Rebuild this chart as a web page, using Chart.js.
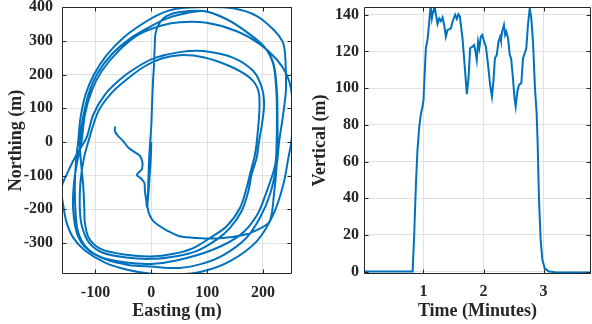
<!DOCTYPE html>
<html><head><meta charset="utf-8">
<script src="https://cdn.jsdelivr.net/npm/chart.js@4.4.1/dist/chart.umd.min.js"></script>
<style>
html,body{margin:0;padding:0;background:#fff;width:592px;height:324px;overflow:hidden}
canvas{position:absolute;top:0}
#c1{left:0}#c2{left:300px}
</style></head><body>
<canvas id="c1" width="300" height="324"></canvas>
<canvas id="c2" width="292" height="324"></canvas>
<script>
// ---- Trajectory (left panel), metres ----
const eastingM = [
 -65,-65,-59,-50,-41,-28,-20,-16,-16,-17,-26,-20,-12.5,-11.5,-9,-8,
 -6,-5,-4,-2,0,1.5,3,4.7,6,7.7,15,27,51,93,
 135,177,203.6,218.6,224,225,224.5,
 222,206,190,160,110,45,0,
 -45,-90,-118,-132,-136,-137,-135,-131,
 -127,-118,-103,-80,-50,-15,15,45,99,
 147,189,218.6,235,239,241,241,236,229,
 224.6,212.5,194.6,170,130,90,51,0.5,
 -41,-83,-115,-133,-140,-139,-133,-125,
 -119,-107,-89,-59,-23,18.5,51,99,
 153,195,224.6,242.5,251,253,251,
 245.5,236.5,218.6,188.7,141,93,45,0,-41,-83,-119,-140,-152,-158,-161,
 -149,-134,-116,
 -104,-83,-53,-23,6.5,51,93,
 147,183,198,202,198,193,
 188.7,179.7,173.8,161.8,141,117,81,45,0,
 -45,-88,-112,-124,-128,-127,-121,-113,
 -95,-71,-41,-11.5,18.5,51,93,
 141,177,192,193.5,189,
 185.7,176.7,170.8,158.8,135,105,75,40,0,
 -45,-90,-112,-119,-120,-122,-126,-128,
 -122,-112,-96,-70,-40,-5,25,50,93,
 135,176,203,219,225,226,226,
 225,220,212,189,165,123,81,51,30.5,3.6,-6.6,-5,-3,-1,0
];
const northingM = [
 46,31,17,2,-17,-32,-42,-60,-72,-81,-98,-106,-121,-146,-175,-192,
 -150,-100,-53,0,50,120,180,225,280,324,354,374,386,389,
 364,319,280,230,151,80,2,
 -67,-150,-215,-275,-320,-352,-362,
 -358,-342,-310,-262,-200,-130,-60,2,
 70,140,200,258,310,352,380,396,401,
 397,374,334,299,270,210,151,80,2,
 -67,-156,-225,-285,-335,-362,-374,-370,
 -365,-348,-318,-272,-200,-130,-60,2,
 81,151,210,270,319,346,356,354,
 329,290,245,200,151,81,2,
 -47,-126,-215,-295,-354,-384,-394,-391,-380,-358,-322,-284,-238,-186,-136,
 -87,-37,13,
 81,141,190,225,250,267,270,
 250,210,161,111,51,2,
 -47,-96,-146,-205,-255,-290,-324,-339,-347,
 -343,-328,-298,-252,-200,-120,-50,0,
 91,146,190,225,248,258,252,
 225,190,151,91,2,
 -37,-96,-136,-196,-250,-285,-315,-332,-340,
 -335,-318,-285,-240,-200,-130,-60,2,
 75,145,205,262,305,340,365,378,389,
 365,321,282,232,152,80,2,
 -60,-150,-235,-262,-276,-286,-285,-280,-265,-235,-196,-150,-100,-50,0
];
// ---- Altitude (right panel) ----
const timeMin = [0,0.4,0.82,0.847,0.875,0.9,0.93,0.958,0.985,1.0,1.02,1.04,1.07,1.096,1.12,1.14,1.16,1.175,1.19,1.207,1.235,1.262,1.29,1.318,1.345,1.373,1.4,1.43,1.457,1.484,1.528,1.556,1.583,1.606,1.65,1.694,1.722,1.75,1.777,1.816,1.844,1.872,1.888,1.91,1.93,1.955,1.98,2.01,2.04,2.076,2.11,2.14,2.165,2.19,2.22,2.25,2.276,2.29,2.31,2.34,2.36,2.38,2.41,2.437,2.46,2.49,2.514,2.536,2.563,2.59,2.63,2.658,2.686,2.713,2.74,2.77,2.796,2.824,2.857,2.885,2.9,2.924,2.952,2.98,3.02,3.09,3.2,3.5,3.79];
const verticalM = [0,0,0,21,48,66,79,86,90,93,108,121.7,127,136,145,138,141.7,145,144,140,135,138,136.5,138.5,134.4,128,131.7,132,132.6,136.2,140,137.7,140.3,139,127.2,109,96.7,105.4,121.7,122.6,123.5,119,115.4,125.3,121.7,128,129,125.3,122.6,112.6,101.7,95.4,103.5,116.3,118,125.3,128,126,130.8,134.4,129,130.8,127,118,116.3,105.4,95.4,90,98,101.7,102.7,116.3,119,121.7,134.4,143.5,138,125.3,100,86,72,39,17.3,6.4,1.8,0,-0.4,-0.5,-0.5];
// ---- Tick labels ----
const eastTicks = [-100,0,100,200];
const northTicks = [-300,-200,-100,0,100,200,300,400];
const timeTicks = [1,2,3];
const vertTicks = [0,20,40,60,80,100,120,140];

const BLUE = '#0072BD', AX = '#262626', GRID = '#e2e2e2';
const FONT = 'Liberation Serif';
const tickFont = {family: FONT, weight: 'bold', size: 16};
const titleFont = {family: FONT, weight: 'bold', size: 18};

const framePlugin = {
  id: 'frame',
  afterDatasetsDraw(chart) {
    const {ctx, chartArea: a, scales} = chart;
    ctx.save();
    ctx.strokeStyle = AX; ctx.lineWidth = 1;
    const l = Math.round(a.left) + 0.5, r = Math.round(a.right) - 0.5;
    const t = Math.round(a.top) + 0.5, b = Math.round(a.bottom) - 0.5;
    ctx.beginPath();
    ctx.rect(l, t, r - l, b - t);
    const L = 4;
    scales.x.ticks.forEach(tk => {
      const p = Math.round(scales.x.getPixelForValue(tk.value)) + 0.5;
      ctx.moveTo(p, b); ctx.lineTo(p, b - L);
      ctx.moveTo(p, t); ctx.lineTo(p, t + L);
    });
    scales.y.ticks.forEach(tk => {
      const p = Math.round(scales.y.getPixelForValue(tk.value)) + 0.5;
      ctx.moveTo(l, p); ctx.lineTo(l + L, p);
      ctx.moveTo(r, p); ctx.lineTo(r - L, p);
    });
    ctx.stroke();
    ctx.restore();
  }
};

function axis(opts) {
  return {
    type: 'linear', min: opts.min, max: opts.max,
    afterBuildTicks: s => { s.ticks = opts.ticks.map(v => ({value: v})); },
    afterFit: s => {
      if (opts.width) s.width = opts.width;
      if (opts.height) s.height = opts.height;
      s.paddingTop = 0; s.paddingBottom = 0; s.paddingLeft = 0; s.paddingRight = 0;
    },
    grid: {color: GRID, lineWidth: 1, drawTicks: false},
    border: {display: false},
    ticks: {color: AX, font: tickFont, padding: opts.pad, maxRotation: 0, autoSkip: false},
    title: {display: true, text: opts.title, color: AX, font: titleFont, padding: opts.tpad}
  };
}

new Chart(document.getElementById('c1'), {
  type: 'scatter',
  data: {datasets: [{
    data: eastingM.map((x, i) => ({x, y: northingM[i]})),
    showLine: true, borderColor: BLUE, borderWidth: 2, pointRadius: 0, tension: 0.3, clip: 0
  }]},
  options: {
    responsive: false, animation: false, devicePixelRatio: 1,
    layout: {padding: {left: 0, top: 7, right: 8, bottom: 0}},
    plugins: {legend: {display: false}, tooltip: {enabled: false}},
    scales: {
      x: axis({min: -160, max: 252, ticks: eastTicks, height: 50, pad: 9, title: 'Easting (m)', tpad: {top: 0, bottom: 2}}),
      y: axis({min: -392, max: 401, ticks: northTicks, width: 62, pad: 9, title: 'Northing (m)', tpad: {top: 6, bottom: 0}})
    }
  },
  plugins: [framePlugin]
});

new Chart(document.getElementById('c2'), {
  type: 'scatter',
  data: {datasets: [{
    data: timeMin.map((x, i) => ({x, y: verticalM[i]})),
    showLine: true, borderColor: BLUE, borderWidth: 2, pointRadius: 0, tension: 0, clip: 0
  }]},
  options: {
    responsive: false, animation: false, devicePixelRatio: 1,
    layout: {padding: {left: 0, top: 7, right: 1, bottom: 0}},
    plugins: {legend: {display: false}, tooltip: {enabled: false}},
    scales: {
      x: axis({min: 0.01, max: 3.79, ticks: timeTicks, height: 50, pad: 8, title: 'Time (Minutes)', tpad: {top: 0, bottom: 2}}),
      y: axis({min: -1.3, max: 144.2, ticks: vertTicks, width: 64, pad: 5, title: 'Vertical (m)', tpad: {top: 10, bottom: 0}})
    }
  },
  plugins: [framePlugin]
});
</script>
</body></html>
